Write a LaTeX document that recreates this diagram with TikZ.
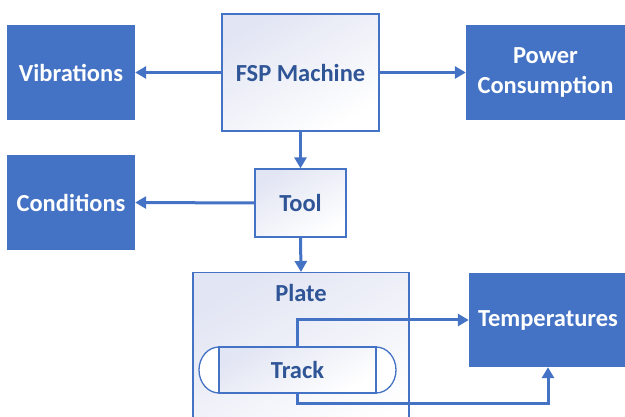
\documentclass[tikz,border=0pt]{standalone}
\usepackage{fontspec}
\setmainfont{Carlito}
\usetikzlibrary{arrows.meta,calc}
\definecolor{dblue}{RGB}{68,114,196}
\definecolor{tblue}{RGB}{47,85,151}
\definecolor{lav}{RGB}{226,229,243}
\tikzset{
  darkbox/.style={draw=none,fill=dblue,text=white,font=\bfseries\fontsize{24.5}{30}\selectfont,align=center,inner sep=0pt},
  lightbox/.style={draw=dblue,line width=1.3pt,top color=lav,bottom color=white,shading angle=30,text=tblue,font=\bfseries\fontsize{24.5}{30}\selectfont,align=center,inner sep=0pt},
  conn/.style={draw=dblue,line width=3pt,-{Triangle[length=11pt,width=12pt]}}
}
\begin{document}
\begin{tikzpicture}[x=1pt,y=-1pt]
\useasboundingbox (0,0) rectangle (625,417);
\clip (0,0) rectangle (625,417);
% nodes
\node[lightbox,minimum width=157pt,minimum height=117pt] (fsp) at (300.5,72.5) {FSP Machine};
\node[darkbox,minimum width=128pt,minimum height=95pt] (vib) at (71,72.5) {Vibrations};
\node[darkbox,minimum width=159pt,minimum height=95pt] (pow) at (545.5,72.5) {Power\\Consumption};
\node[darkbox,minimum width=128pt,minimum height=95pt] (cond) at (71,202.5) {Conditions};
\node[lightbox,minimum width=91pt,minimum height=68pt] (tool) at (300.5,203) {Tool};
\node[lightbox,minimum width=216pt,minimum height=170pt,anchor=north] (plate) at (301,272) {};
\node[text=tblue,font=\bfseries\fontsize{24.5}{30}\selectfont] (platelbl) at (301,293) {Plate};
% track
\draw[dblue,line width=1.3pt,fill=white] (219,347) arc[start angle=270,end angle=90,x radius=20,y radius=23];
\draw[dblue,line width=1.3pt,fill=white] (376,347) arc[start angle=270,end angle=450,x radius=20,y radius=23];
\node[draw=dblue,line width=1.3pt,top color=lav,bottom color=white,shading angle=30,minimum width=157pt,minimum height=46pt,inner sep=0pt,text=tblue,font=\bfseries\fontsize{24.5}{30}\selectfont] (track) at (297.5,370) {Track};
\node[darkbox,minimum width=158pt,minimum height=94pt] (temp) at (548,320) {Temperatures};
% connectors
\draw[conn] (fsp.west) -- (vib.east);
\draw[conn] (fsp.east) -- (pow.west);
\draw[conn] (fsp.south) -- (tool.north);
\draw[conn] (tool.west) -- (cond.east);
\draw[conn] (tool.south) -- (plate.north);
\draw[conn] (track.north) |- (temp.west);
\coordinate (tb) at ($(track.south)+(0,10)$);
\draw[conn] (track.south) -- (tb) -| (temp.south);
\end{tikzpicture}
\end{document}
